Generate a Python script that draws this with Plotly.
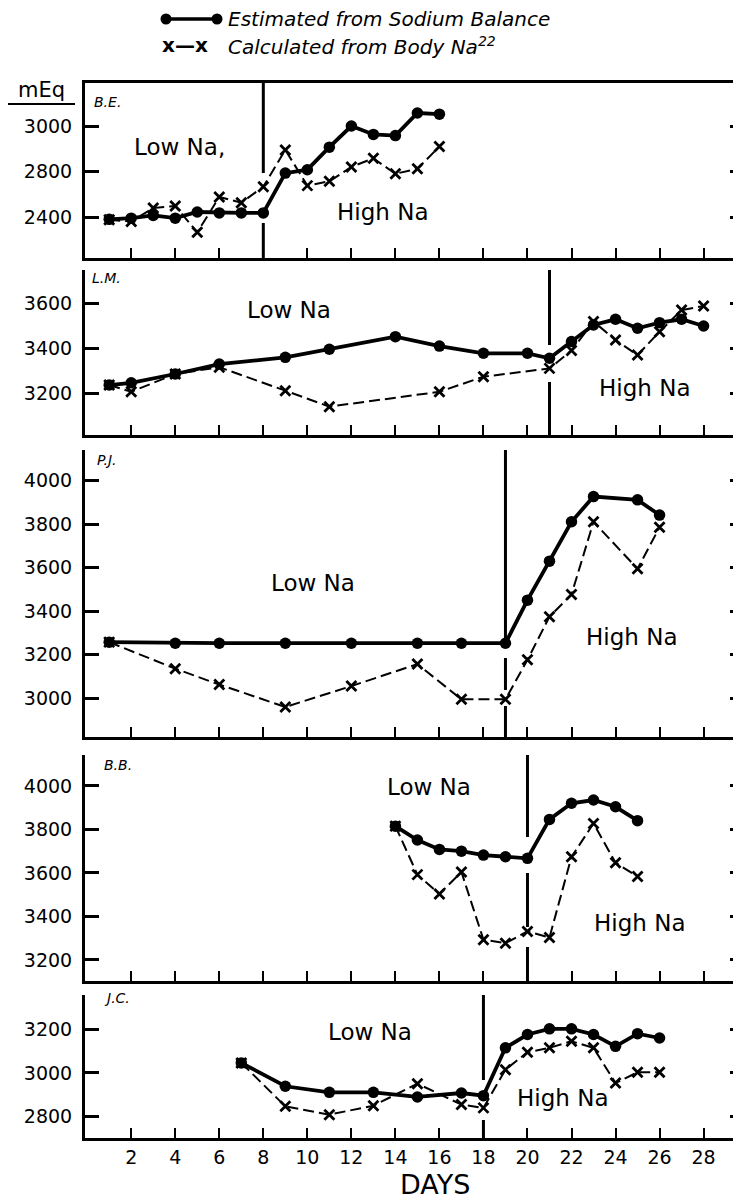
import plotly.graph_objects as go

# ---------------- data ----------------
panel_names = ["B.E.", "L.M.", "P.J.", "B.B.", "J.C."]
switch_days = [8, 21, 19, 20, 18]

# B.E. (axis units: the tick printed "2400" sits where 2600 would be)
days_est_BE = [1, 2, 3, 4, 5, 6, 7, 8, 9, 10, 11, 12, 13, 14, 15, 16]
est_BE = [2590, 2595, 2607, 2595, 2622, 2618, 2618, 2618, 2793, 2808, 2907, 3000, 2963, 2958, 3057, 3052]
days_cal_BE = [1, 2, 3, 4, 5, 6, 7, 8, 9, 10, 11, 12, 13, 14, 15, 16]
cal_BE = [2588, 2580, 2640, 2648, 2533, 2688, 2663, 2733, 2895, 2738, 2757, 2820, 2858, 2790, 2812, 2910]

# L.M.
days_est_LM = [1, 2, 4, 6, 9, 11, 14, 16, 18, 20, 21, 22, 23, 24, 25, 26, 27, 28]
est_LM = [3237, 3247, 3286, 3330, 3360, 3396, 3452, 3410, 3378, 3378, 3356, 3430, 3504, 3529, 3489, 3514, 3529, 3499]
days_cal_LM = [1, 2, 4, 6, 9, 11, 16, 18, 21, 22, 23, 24, 25, 26, 27, 28]
cal_LM = [3237, 3207, 3286, 3316, 3212, 3141, 3207, 3274, 3311, 3390, 3519, 3437, 3370, 3474, 3570, 3588]

# P.J.
days_est_PJ = [1, 4, 6, 9, 12, 15, 17, 19, 20, 21, 22, 23, 25, 26]
est_PJ = [3258, 3253, 3253, 3253, 3253, 3253, 3253, 3253, 3451, 3630, 3811, 3927, 3912, 3842]
days_cal_PJ = [1, 4, 6, 9, 12, 15, 17, 19, 20, 21, 22, 23, 25, 26]
cal_PJ = [3258, 3136, 3063, 2960, 3056, 3157, 2995, 2995, 3177, 3375, 3477, 3811, 3595, 3786]

# B.B.
days_est_BB = [14, 15, 16, 17, 18, 19, 20, 21, 22, 23, 24, 25]
est_BB = [3815, 3751, 3708, 3700, 3682, 3674, 3667, 3846, 3920, 3935, 3904, 3840]
days_cal_BB = [14, 15, 16, 17, 18, 19, 20, 21, 22, 23, 24, 25]
cal_BB = [3815, 3592, 3503, 3604, 3293, 3277, 3331, 3303, 3674, 3827, 3647, 3583]

# J.C.
days_est_JC = [7, 9, 11, 13, 15, 17, 18, 19, 20, 21, 22, 23, 24, 25, 26]
est_JC = [3046, 2939, 2911, 2911, 2890, 2908, 2896, 3115, 3176, 3202, 3202, 3176, 3122, 3180, 3160]
days_cal_JC = [7, 9, 11, 13, 15, 17, 18, 19, 20, 21, 22, 23, 24, 25, 26]
cal_JC = [3046, 2847, 2809, 2850, 2951, 2855, 2840, 3015, 3095, 3115, 3145, 3115, 2954, 3003, 3003]

y_tickvals = [
    [2600, 2800, 3000],
    [3200, 3400, 3600],
    [3000, 3200, 3400, 3600, 3800, 4000],
    [3200, 3400, 3600, 3800, 4000],
    [2800, 3000, 3200],
]
y_ticktext = [
    ["2400", "2800", "3000"],
    ["3200", "3400", "3600"],
    ["3000", "3200", "3400", "3600", "3800", "4000"],
    ["3200", "3400", "3600", "3800", "4000"],
    ["2800", "3000", "3200"],
]
x_tickvals = [2, 4, 6, 8, 10, 12, 14, 16, 18, 20, 22, 24, 26, 28]

est_days = [days_est_BE, days_est_LM, days_est_PJ, days_est_BB, days_est_JC]
est_vals = [est_BE, est_LM, est_PJ, est_BB, est_JC]
cal_days = [days_cal_BE, days_cal_LM, days_cal_PJ, days_cal_BB, days_cal_JC]
cal_vals = [cal_BE, cal_LM, cal_PJ, cal_BB, cal_JC]

# ---------------- layout geometry (page pixels) ----------------
OFF = 8                  # default page margin around the plot div
W, H = 741 - OFF, 1200 - OFF
LM = 85 - OFF            # left margin inside the figure
panel_top = [83, 270, 450, 755, 995]
panel_bot = [258, 435, 737, 981, 1138]
y_ranges = [[2420, 3189], [3015, 3748], [2822, 4141], [3103, 4142], [2702, 3357]]
x_range = [-0.1, 29.7]

divider_segments = [
    [(83, 173), (223, 258)],
    [(270, 345), (382, 435)],
    [(450, 640), (658, 690), (706, 737)],
    [(755, 837), (873, 927), (947, 981)],
    [(995, 1080), (1120, 1138)],
]
name_pos = [(92, 102), (90, 278), (95, 460), (102, 765), (102, 998)]
low_pos = [(179, 147), (289, 310), (313, 583), (429, 787), (370, 1032)]
high_pos = [(382, 212), (644, 388), (631, 637), (639, 923), (562, 1098)]
low_text = ["Low Na,", "Low Na", "Low Na", "Low Na", "Low Na"]


def px(xp):
    return (xp - OFF - LM) / (W - LM)


def py(yp):
    return 1 - (yp - OFF) / H


FONT = "DejaVu Sans"
fig = go.Figure()
layout = dict(
    width=W, height=H,
    margin=dict(l=LM, r=0, t=0, b=0),
    paper_bgcolor="white", plot_bgcolor="white",
    showlegend=False,
    font=dict(family=FONT, color="black", size=19),
)
shapes = []
annotations = []

for i in range(5):
    n = i + 1
    xs = "" if n == 1 else str(n)
    ax_x = "x" + xs
    ax_y = "y" + xs
    dom = [py(panel_bot[i]), py(panel_top[i])]

    fig.add_trace(go.Scatter(
        x=cal_days[i], y=cal_vals[i], xaxis=ax_x, yaxis=ax_y, mode="lines+markers",
        line=dict(color="black", width=2, dash="11px,5px"),
        marker=dict(symbol="x-thin-open", size=10, color="black", line=dict(width=2.8, color="black")),
        cliponaxis=False,
    ))
    fig.add_trace(go.Scatter(
        x=est_days[i], y=est_vals[i], xaxis=ax_x, yaxis=ax_y, mode="lines+markers",
        line=dict(color="black", width=3.8),
        marker=dict(symbol="circle", size=11.5, color="black"),
        cliponaxis=False,
    ))

    layout["xaxis" + xs] = dict(
        domain=[0, 1], anchor=ax_y, range=x_range,
        showline=True, linewidth=3, linecolor="black",
        mirror=(i == 0),
        ticks="inside", ticklen=10, tickwidth=2.2, tickcolor="black",
        tickvals=x_tickvals, ticktext=[str(v) for v in x_tickvals],
        showticklabels=(i == 4), showgrid=False, zeroline=False,
        tickfont=dict(size=19),
    )
    layout["yaxis" + xs] = dict(
        domain=dom, anchor=ax_x, range=y_ranges[i],
        showline=True, linewidth=3, linecolor="black",
        ticks="inside", ticklen=14, tickwidth=2.5, tickcolor="black",
        tickvals=y_tickvals[i], ticktext=y_ticktext[i],
        showgrid=False, zeroline=False, ticklabelstandoff=6,
        tickfont=dict(size=19),
    )
    # right-hand tick marks (no line)
    rn = str(n + 5)
    layout["yaxis" + rn] = dict(
        overlaying=ax_y, anchor=ax_x, side="right", range=y_ranges[i],
        showline=False, ticks="inside", ticklen=11, tickwidth=2.5, tickcolor="black",
        tickvals=y_tickvals[i], showticklabels=False, showgrid=False, zeroline=False,
    )
    fig.add_trace(go.Scatter(x=[], y=[], xaxis=ax_x, yaxis="y" + rn, showlegend=False))

    for (a, b) in divider_segments[i]:
        shapes.append(dict(type="line", xref=ax_x, yref="paper",
                           x0=switch_days[i], x1=switch_days[i], y0=py(a), y1=py(b),
                           line=dict(color="black", width=3)))

    annotations.append(dict(text="<i>" + panel_names[i] + "</i>", xref="paper", yref="paper",
                            x=px(name_pos[i][0]), y=py(name_pos[i][1]), xanchor="left", yanchor="middle",
                            showarrow=False, font=dict(size=14)))
    annotations.append(dict(text=low_text[i], xref="paper", yref="paper",
                            x=px(low_pos[i][0]), y=py(low_pos[i][1]), xanchor="center", yanchor="middle",
                            showarrow=False, font=dict(size=23)))
    annotations.append(dict(text="High Na", xref="paper", yref="paper",
                            x=px(high_pos[i][0]), y=py(high_pos[i][1]), xanchor="center", yanchor="middle",
                            showarrow=False, font=dict(size=23)))

# axis unit label and x title
annotations.append(dict(text="mEq", xref="paper", yref="paper", x=px(41), y=py(90),
                        xanchor="center", yanchor="middle", showarrow=False, font=dict(size=21)))
shapes.append(dict(type="line", xref="paper", yref="paper", x0=px(8), x1=px(75), y0=py(104), y1=py(104),
                   line=dict(color="black", width=2)))
annotations.append(dict(text="DAYS", xref="paper", yref="paper", x=px(435), y=py(1184),
                        xanchor="center", yanchor="middle", showarrow=False, font=dict(size=27)))

# legend key
LEG1, LEG2 = 19, 45
shapes.append(dict(type="line", xref="paper", yref="paper", x0=px(166), x1=px(217), y0=py(LEG1), y1=py(LEG1),
                   line=dict(color="black", width=3.5)))
for cx in (166, 217):
    shapes.append(dict(type="circle", xref="paper", yref="paper", fillcolor="black",
                       x0=px(cx - 5.5), x1=px(cx + 5.5), y0=py(LEG1 + 5.5), y1=py(LEG1 - 5.5),
                       line=dict(color="black", width=0)))
annotations.append(dict(text="<i>Estimated from Sodium Balance</i>", xref="paper", yref="paper",
                        x=px(226), y=py(LEG1), xanchor="left", yanchor="middle", showarrow=False,
                        font=dict(size=20)))
annotations.append(dict(text="<b>x—x</b>", xref="paper", yref="paper",
                        x=px(185), y=py(LEG2), xanchor="center", yanchor="middle", showarrow=False,
                        font=dict(size=20)))
annotations.append(dict(text="<i>Calculated from Body Na<sup>22</sup></i>", xref="paper", yref="paper",
                        x=px(226), y=py(LEG2 + 1), xanchor="left", yanchor="middle", showarrow=False,
                        font=dict(size=20)))

layout["shapes"] = shapes
layout["annotations"] = annotations
fig.update_layout(**layout)
fig.write_html("out.html", config={"displayModeBar": False})
